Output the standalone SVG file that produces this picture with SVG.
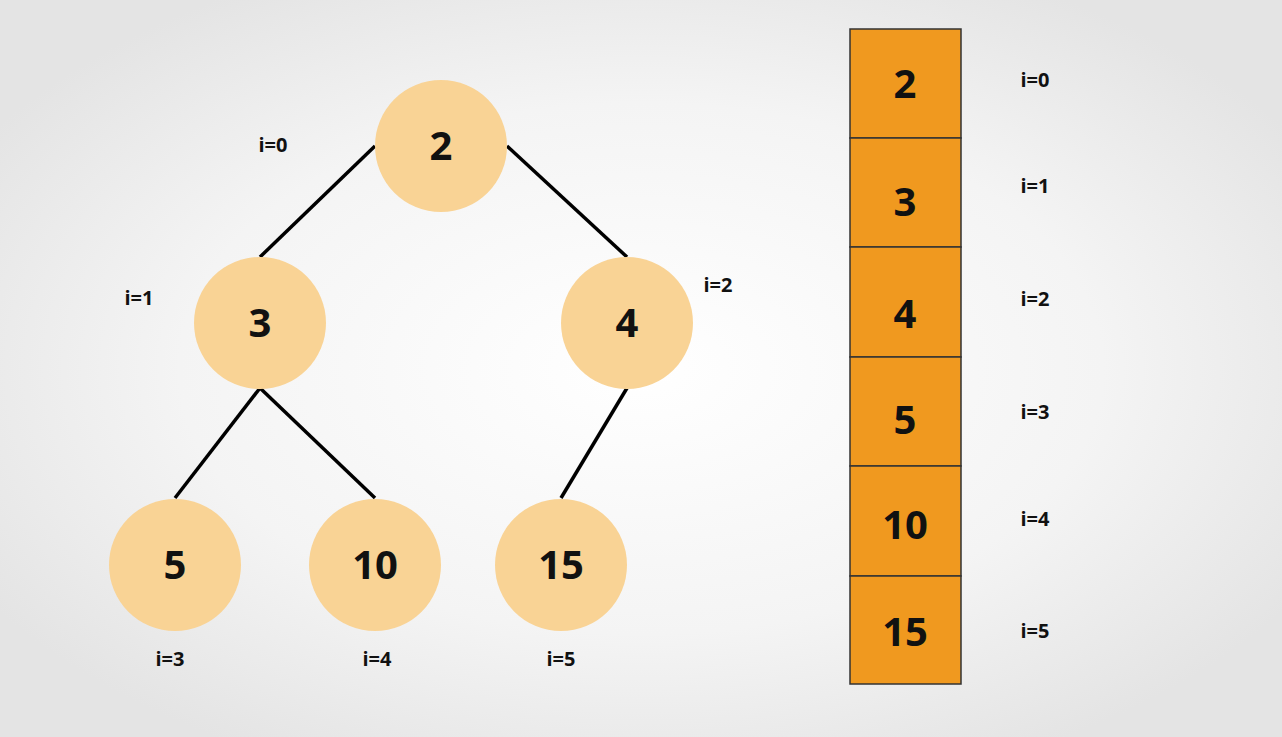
<svg xmlns="http://www.w3.org/2000/svg" width="1282" height="737" viewBox="0 0 1282 737">
<defs>
<radialGradient id="bg" cx="0.5" cy="0.5" r="0.6">
<stop offset="0" stop-color="#ffffff"/><stop offset="0.6" stop-color="#f4f4f4"/><stop offset="1" stop-color="#e4e4e4"/>
</radialGradient>
<style>
.n{fill:#f9d395}
.t{font-family:"Open Sans","DejaVu Sans",sans-serif;font-weight:bold;font-size:40px;text-anchor:middle;fill:#111}
.l{font-family:"Open Sans","DejaVu Sans",sans-serif;font-weight:bold;font-size:20px;text-anchor:middle;fill:#111}
.c{fill:#f0991f;stroke:#333;stroke-width:1.5}
.e{stroke:#000;stroke-width:3.5;fill:none}
</style>
</defs>
<rect width="1282" height="737" fill="url(#bg)"/>
<g id="connectors">
<line class="e" x1="375" y1="146" x2="260" y2="257"/>
<line class="e" x1="507" y1="146" x2="627" y2="257"/>
<line class="e" x1="260" y1="388" x2="175" y2="498"/>
<line class="e" x1="260" y1="388" x2="375" y2="498"/>
<line class="e" x1="627" y1="388" x2="561" y2="498"/>
</g>
<g id="n0"><circle class="n" cx="441" cy="146" r="66"/><text class="t" x="441" y="160">2</text></g>
<g id="n1"><circle class="n" cx="260" cy="323" r="66"/><text class="t" x="260" y="337">3</text></g>
<g id="n2"><circle class="n" cx="627" cy="323" r="66"/><text class="t" x="627" y="337">4</text></g>
<g id="n3"><circle class="n" cx="175" cy="565" r="66"/><text class="t" x="175" y="579">5</text></g>
<g id="n4"><circle class="n" cx="375" cy="565" r="66"/><text class="t" x="375" y="579">10</text></g>
<g id="n5"><circle class="n" cx="561" cy="565" r="66"/><text class="t" x="561" y="579">15</text></g>
<g id="treelabels">
<text class="l" x="273" y="152">i=0</text>
<text class="l" x="139" y="305">i=1</text>
<text class="l" x="718" y="292">i=2</text>
<text class="l" x="170" y="666">i=3</text>
<text class="l" x="377" y="666">i=4</text>
<text class="l" x="561" y="666">i=5</text>
</g>
<g id="array">
<rect class="c" x="850" y="29" width="111" height="109"/><text class="t" x="905" y="98">2</text>
<rect class="c" x="850" y="138" width="111" height="109"/><text class="t" x="905" y="216">3</text>
<rect class="c" x="850" y="247" width="111" height="110"/><text class="t" x="905" y="328">4</text>
<rect class="c" x="850" y="357" width="111" height="109"/><text class="t" x="905" y="434">5</text>
<rect class="c" x="850" y="466" width="111" height="110"/><text class="t" x="905" y="539">10</text>
<rect class="c" x="850" y="576" width="111" height="108"/><text class="t" x="905" y="646">15</text>
</g>
<g id="arraylabels">
<text class="l" x="1035" y="87">i=0</text>
<text class="l" x="1035" y="193">i=1</text>
<text class="l" x="1035" y="306">i=2</text>
<text class="l" x="1035" y="419">i=3</text>
<text class="l" x="1035" y="526">i=4</text>
<text class="l" x="1035" y="638">i=5</text>
</g>
</svg>
